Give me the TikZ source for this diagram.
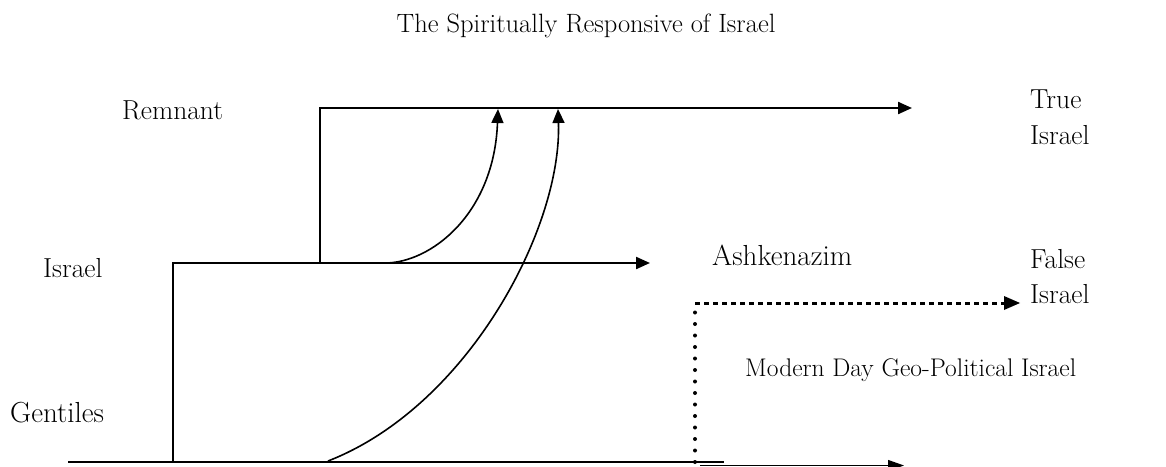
\documentclass[tikz,border=0pt]{standalone}
\usepackage{fontspec}
\setmainfont{Latin Modern Roman}
\usetikzlibrary{arrows.meta,calc}
\begin{document}
\begin{tikzpicture}[x=1pt,y=-1pt,
  mainline/.style={line width=2.2pt},
  curveline/.style={line width=1.6pt},
  tipA/.style={-{Triangle[length=14pt,width=12pt]}},
  lbl/.style={anchor=base west,inner sep=0pt,font=\fontsize{27.5}{32}\selectfont},
  vdots/.style={line width=4pt,line cap=round,dash pattern=on 0pt off 11.5pt},
  hdots/.style={line width=3pt,dash pattern=on 4.5pt off 4.5pt}]
\useasboundingbox (0,0) rectangle (1166,466);
% coordinates
\coordinate (gL) at (68,462);
\coordinate (gR) at (724,462);
\coordinate (gA0) at (700,465.5);
\coordinate (gA1) at (904,465.5);
\coordinate (iB) at (173,462);
\coordinate (iC) at (173,263);
\coordinate (iE) at (650,263);
\coordinate (rB) at (320,263);
\coordinate (rC) at (320,108);
\coordinate (rE) at (912,108);
\coordinate (c1s) at (385,263);
\coordinate (c1e) at (498,109);
\coordinate (c2s) at (328,461);
\coordinate (c2e) at (558,109);
\coordinate (dB) at (695,462);
\coordinate (dC) at (695,303);
\coordinate (dE) at (1020,303);
% labels
\node[anchor=base,inner sep=0pt,font=\fontsize{26.5}{30}\selectfont] (title) at (586,32) {The Spiritually Responsive of Israel};
\node[lbl] (remnant) at (122,119) {Remnant};
\node[lbl] (true1) at (1030,108) {True};
\node[lbl] (true2) at (1030,144) {Israel};
\node[lbl] (israel) at (43,277) {Israel};
\node[lbl,font=\fontsize{29}{32}\selectfont] (ashk) at (712,265) {Ashkenazim};
\node[lbl] (false1) at (1030,268) {False};
\node[lbl] (false2) at (1030,303) {Israel};
\node[anchor=base west,inner sep=0pt,font=\fontsize{25.5}{30}\selectfont] (modern) at (745,376) {Modern Day Geo-Political Israel};
\node[lbl,font=\fontsize{29}{32}\selectfont] (gent) at (10,422) {Gentiles};
% lines
\draw[line width=2.6pt] (gL) -- (gR);
\draw[line width=1.2pt,-{Triangle[length=16pt,width=11pt]}] (gA0) -- (gA1);
\draw[mainline,tipA] (iB) -- (iC) -- (iE);
\draw[mainline,tipA] (rB) -- (rC) -- (rE);
\draw[curveline,tipA] (c1s) .. controls (430,263) and (494,215) .. (c1e);
\draw[curveline,tipA] (c2s) .. controls (467,407) and (562,229) .. (c2e);
\draw[vdots] (dB) -- (dC);
\draw[hdots] (dC) -- ($(dE)+(-14,0)$);
\fill (dE) -- ++(-16,-7) -- ++(0,14) -- cycle;
\end{tikzpicture}
\end{document}
